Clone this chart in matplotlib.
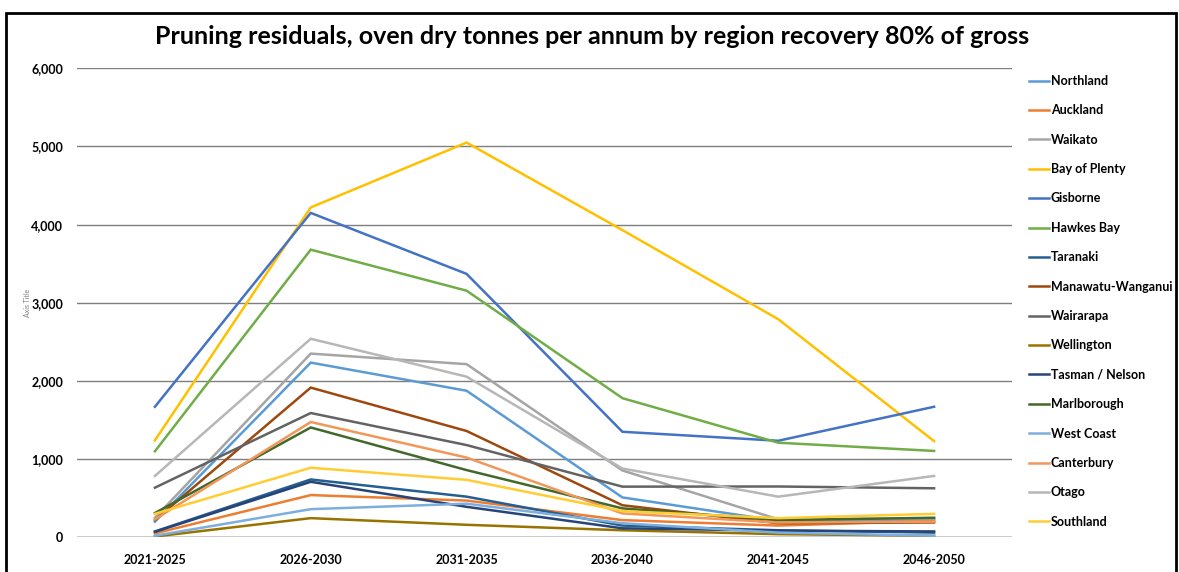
import matplotlib
matplotlib.use("Agg")
import matplotlib.pyplot as plt
from matplotlib.patches import Rectangle

plt.rcParams["font.family"] = ["Lato", "DejaVu Sans"]

periods = ["2021-2025", "2026-2030", "2031-2035", "2036-2040", "2041-2045", "2046-2050"]

# oven dry tonnes per annum
northland   = [200, 2235, 1875, 510, 210, 230]
auckland    = [50, 540, 470, 220, 150, 210]
waikato     = [250, 2350, 2215, 855, 230, 240]
bay_plenty  = [1240, 4220, 5050, 3930, 2790, 1230]
gisborne    = [1670, 4150, 3370, 1350, 1235, 1670]
hawkes_bay  = [1100, 3680, 3155, 1780, 1210, 1105]
taranaki    = [75, 740, 520, 150, 90, 60]
manawatu    = [220, 1915, 1360, 410, 180, 190]
wairarapa   = [635, 1590, 1180, 648, 650, 627]
wellington  = [10, 245, 160, 90, 40, 20]
tasman      = [70, 710, 390, 115, 85, 75]
marlborough = [310, 1405, 860, 370, 220, 250]
west_coast  = [20, 360, 430, 180, 60, 20]
canterbury  = [230, 1475, 1020, 305, 190, 200]
otago       = [785, 2540, 2055, 880, 520, 785]
southland   = [300, 890, 735, 335, 245, 300]

series = [
    ("Northland", northland, "#5B9BD5"),
    ("Auckland", auckland, "#ED7D31"),
    ("Waikato", waikato, "#A5A5A5"),
    ("Bay of Plenty", bay_plenty, "#FFC000"),
    ("Gisborne", gisborne, "#4472C4"),
    ("Hawkes Bay", hawkes_bay, "#70AD47"),
    ("Taranaki", taranaki, "#255E91"),
    ("Manawatu-Wanganui", manawatu, "#9E480E"),
    ("Wairarapa", wairarapa, "#636363"),
    ("Wellington", wellington, "#997300"),
    ("Tasman / Nelson", tasman, "#264478"),
    ("Marlborough", marlborough, "#43682B"),
    ("West Coast", west_coast, "#7CAFDD"),
    ("Canterbury", canterbury, "#F1975A"),
    ("Otago", otago, "#B7B7B7"),
    ("Southland", southland, "#FFCD33"),
]

W, H = 1179, 572
fig = plt.figure(figsize=(W / 100, H / 100), dpi=100)
ax = fig.add_axes([77 / W, 1 - 537.3 / H, (1012 - 77) / W, (537.3 - 68.3) / H])

x = range(len(periods))
for name, vals, col in series:
    ax.plot(x, vals, color=col, lw=1.8, label=name, solid_joinstyle="miter")

ax.set_xlim(-0.5, len(periods) - 0.5)
ax.set_ylim(0, 6000)
ax.set_yticks(range(0, 6001, 1000))
ax.set_yticklabels([f"{v:,}" for v in range(0, 6001, 1000)])
ax.set_xticks(list(x))
ax.set_xticklabels(periods)
for lbl in ax.get_xticklabels() + ax.get_yticklabels():
    lbl.set_fontweight("bold")
    lbl.set_fontsize(9)
ax.tick_params(length=0, pad=10)
ax.tick_params(axis="x", pad=12)
ax.grid(axis="y", color="#7f7f7f", lw=1.0)
ax.set_axisbelow(True)
for s in ax.spines.values():
    s.set_visible(False)
ax.axhline(0, color="#d9d9d9", lw=1.2, zorder=0.5)

ax.set_ylabel("Axis Title", fontsize=5, color="#808080")
ax.yaxis.set_label_coords(-46 / 935, 0.5)

fig.text(592 / W, 1 - 37 / H, "Pruning residuals, oven dry tonnes per annum by region recovery 80% of gross",
         ha="center", va="center", fontsize=18, fontweight="bold")

fig.legend(loc="upper left", bbox_to_anchor=(1024 / W, 1 - 70 / H), frameon=False,
           prop={"weight": "bold", "size": 9}, handlelength=1.6, handletextpad=0.15,
           labelspacing=1.39, borderaxespad=0)

# black frame around the figure panel
fig.patches.append(Rectangle((6 / W, -0.05), (1176 - 6) / W, 1 - 13 / H + 0.05,
                             transform=fig.transFigure, fill=False, ec="black", lw=2))

fig.savefig("out.png", dpi=100)
